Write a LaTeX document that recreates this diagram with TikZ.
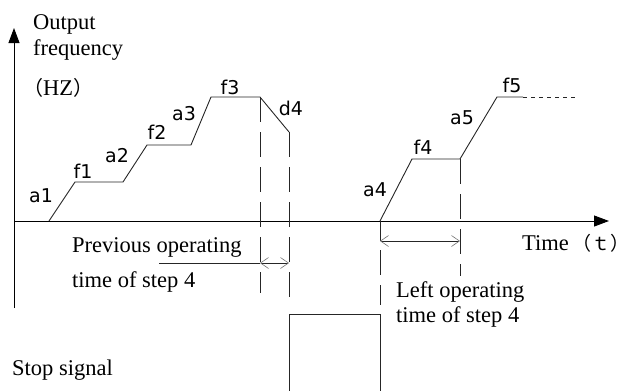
\documentclass[tikz,border=0pt]{standalone}
\usepackage{fontspec}
\setmainfont{Liberation Serif}
\newfontfamily\lblfont{DejaVu Sans}
\newfontfamily\cjkfont{Noto Sans CJK SC}
\usetikzlibrary{arrows.meta}
\tikzset{
  wave/.style={line width=0.9pt, black!85},
  vdash/.style={line width=0.9pt, black!85, dash pattern=on 25pt off 10pt},
  fdot/.style={line width=0.9pt, black!85, dash pattern=on 4pt off 4pt},
  axisline/.style={line width=0.9pt, black, -{Triangle[length=15pt,width=11pt]}},
  dimline/.style={line width=0.9pt, black!85,
     {Straight Barb[length=8pt,width=11pt,line width=0.6pt,color=black!55]}-{Straight Barb[length=8pt,width=11pt,line width=0.6pt,color=black!55]}},
  lbl/.style={font=\lblfont\fontsize{19}{19}\selectfont, inner sep=0pt},
  txt/.style={font=\fontsize{22.5}{26}\selectfont, anchor=base west, inner sep=0pt},
}
\begin{document}
\begin{tikzpicture}[x=1pt,y=-1pt]
\useasboundingbox (0,0) rectangle (624,391);
% axes
\coordinate (O) at (14,221);
\coordinate (ytop) at (14,28);
\coordinate (ybot) at (14,308);
\coordinate (xend) at (609,221);
\draw[axisline] (ybot) -- (ytop);
\draw[axisline] (O) -- (xend);
% first frequency profile
\coordinate (p0) at (49,221);
\coordinate (p1) at (75,182);
\coordinate (p2) at (123,182);
\coordinate (p3) at (147,145);
\coordinate (p4) at (191,145);
\coordinate (p5) at (211,97);
\coordinate (p6) at (260,97);
\coordinate (p7) at (289,132);
\draw[wave] (p0) -- (p1) -- (p2) -- (p3) -- (p4) -- (p5) -- (p6) -- (p7);
% second frequency profile
\coordinate (q0) at (380,221);
\coordinate (q1) at (412,159);
\coordinate (q2) at (460,159);
\coordinate (q3) at (497,97);
\coordinate (q4) at (523,97);
\coordinate (q5) at (575,97);
\draw[wave] (q0) -- (q1) -- (q2) -- (q3) -- (q4);
\draw[fdot] (q4) -- (q5);
% stop signal pulse
\coordinate (rBL) at (289,391);
\coordinate (rTL) at (289,314);
\coordinate (rTR) at (380,314);
\coordinate (rBR) at (380,391);
\draw[wave] (rBL) -- (rTL) -- (rTR) -- (rBR);
% dashed verticals
\coordinate (d1) at (260,293);
\coordinate (d2) at (289,305);
\coordinate (d4) at (460,276);
\draw[vdash] (p6) -- (d1);
\draw[vdash] (p7) -- (d2);
\draw[wave, dash pattern=on 20pt off 9pt on 25pt off 10pt] (q0) -- (rTR);
\draw[vdash] (q2) -- (d4);
% dimension arrows
\coordinate (prevL) at (159,263);
\coordinate (prevA) at (260,263);
\coordinate (prevB) at (289,263);
\draw[wave] (prevL) -- (prevA);
\draw[dimline] (prevA) -- (prevB);
\coordinate (leftA) at (380,241);
\coordinate (leftB) at (460,241);
\draw[dimline] (leftA) -- (leftB);
% labels
\node[lbl] (la1) at (41,196) {a1};
\node[lbl] (lf1) at (83,171) {f1};
\node[lbl] (la2) at (117,156) {a2};
\node[lbl] (lf2) at (157,132) {f2};
\node[lbl] (la3) at (184,114) {a3};
\node[lbl] (lf3) at (230,87) {f3};
\node[lbl] (ld4) at (291,108) {d4};
\node[lbl] (la4) at (375,190) {a4};
\node[lbl] (lf4) at (423,147) {f4};
\node[lbl] (la5) at (462,118) {a5};
\node[lbl] (lf5) at (512,85) {f5};
% texts
\node[txt] (t1) at (33,29) {Output};
\node[txt] (t2) at (33,55) {frequency};
\node[txt] (t3) at (23,95) {{\cjkfont\fontsize{20}{20}\selectfont （}HZ{\cjkfont\fontsize{20}{20}\selectfont ）}};
\node[txt] (t4) at (522,250) {Time\hspace{4pt}{\cjkfont\fontsize{19}{19}\selectfont （ｔ\makebox[7pt][l]{）}}};
\node[txt] (t5) at (72,252) {Previous operating};
\node[txt] (t6) at (72,287) {time of step 4};
\node[txt] (t7) at (396,297) {Left operating};
\node[txt] (t8) at (396,322) {time of step 4};
\node[txt] (t9) at (12,375) {Stop signal};
\end{tikzpicture}
\end{document}
